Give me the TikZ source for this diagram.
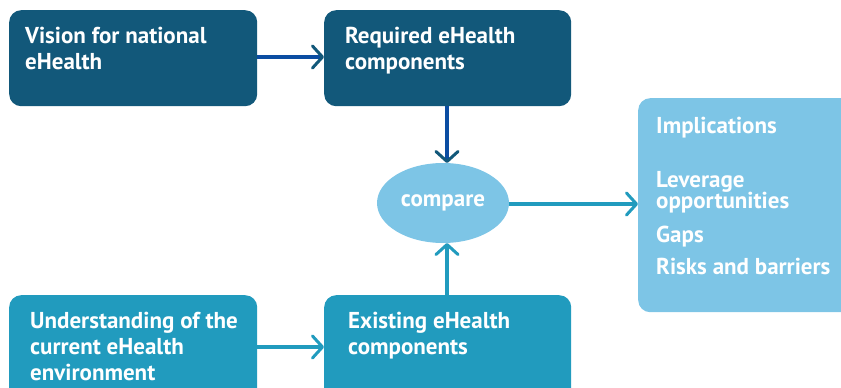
\documentclass[tikz,border=0pt]{standalone}
\usepackage{fontspec}
\setmainfont{PT Sans}
\usetikzlibrary{arrows.meta,shapes.geometric}
\definecolor{darkbox}{HTML}{12587A}
\definecolor{midbox}{HTML}{219BBE}
\definecolor{lightbox}{HTML}{7DC5E6}
\definecolor{darkline}{HTML}{0B4DA2}
\tikzset{
  box/.style={draw=none,rounded corners=12pt,inner sep=0pt,anchor=north west},
  label/.style={text=white,font=\fontsize{23}{26}\selectfont\bfseries,align=left,inner sep=0pt,anchor=north west},
  rlabel/.style={text=white,font=\fontsize{23}{22}\selectfont\bfseries,align=left,inner sep=0pt,anchor=base west},
  conn/.style={line width=3.5pt,-{Straight Barb[length=10pt,width=22pt,line width=3pt,round]}},
  dconn/.style={line width=3.5pt,darkline,-{Straight Barb[length=10pt,width=22pt,line width=3pt,round,color=darkbox]}},
}
\begin{document}
\begin{tikzpicture}[x=1pt,y=-1pt]
\useasboundingbox (0,0) rectangle (841,388);
\node[box,fill=darkbox,minimum width=248pt,minimum height=96pt] (vision) at (9,10) {};
\node[box,fill=darkbox,minimum width=247pt,minimum height=96pt] (req) at (324,10) {};
\node[box,fill=midbox,minimum width=248pt,minimum height=110pt] (under) at (9,295) {};
\node[box,fill=midbox,minimum width=247pt,minimum height=110pt] (exist) at (324,295) {};
\node[ellipse,fill=lightbox,minimum width=132pt,minimum height=80pt,inner sep=0pt,text=white,font=\fontsize{23}{24}\selectfont\bfseries] (cmp) at (443,203) {compare};
\node[box,fill=lightbox,minimum width=220pt,minimum height=214pt] (impl) at (638,98) {};

\node[label] (t1) at (25,26.5) {Vision for national\\eHealth};
\node[label] (t2) at (345,26.5) {Required eHealth\\components};
\node[label] (t3) at (30,311.5) {Understanding of the\\current eHealth\\environment};
\node[label] (t4) at (348,311.5) {Existing eHealth\\components};

\node[rlabel] (r1) at (656,133) {Implications};
\node[rlabel] (r2) at (656,187) {Leverage};
\node[rlabel] (r3) at (656,208) {opportunities};
\node[rlabel] (r4) at (656,242) {Gaps};
\node[rlabel] (r5) at (656,274) {Risks and barriers};

\coordinate (a1s) at (vision.east |- 0,57);
\coordinate (a1e) at (req.west |- 0,57);
\draw[dconn] (a1s) -- (a1e);
\coordinate (a2s) at (447,106);
\coordinate (a2e) at (447,163);
\draw[dconn] (a2s) -- (a2e);
\coordinate (a3s) at (vision.east |- 0,347);
\coordinate (a3e) at (exist.west |- 0,347);
\draw[conn,midbox] (a3s) -- (a3e);
\coordinate (a4s) at (447,295);
\coordinate (a4e) at (447,243);
\draw[conn,midbox] (a4s) -- (a4e);
\coordinate (a5s) at (cmp.east |- 0,204);
\coordinate (a5e) at (impl.west |- 0,204);
\draw[conn,midbox] (a5s) -- (a5e);
\end{tikzpicture}
\end{document}
